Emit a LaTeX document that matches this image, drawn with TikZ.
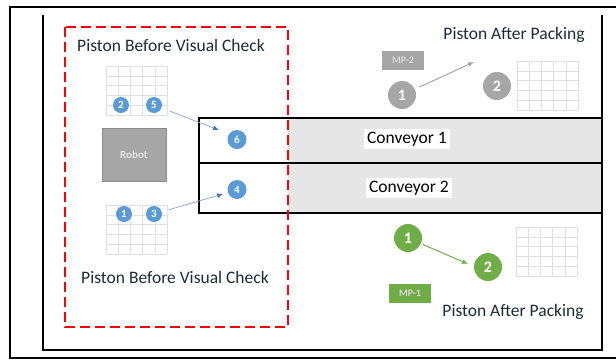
\documentclass[tikz,border=0pt]{standalone}
\usepackage{fontspec}
\setmainfont{Carlito}
\usepackage{tikz}
\usetikzlibrary{arrows.meta}

\definecolor{dotblue}{HTML}{5B9BD5}
\definecolor{arrowblue}{HTML}{8FAADC}
\definecolor{tipblue}{HTML}{4472C4}
\definecolor{dotgray}{HTML}{A6A6A6}
\definecolor{dotgreen}{HTML}{70AD47}
\definecolor{beltgray}{HTML}{E6E6E6}
\definecolor{textnavy}{HTML}{1E2A38}

\newcommand{\pistongrid}[2]{%
  \foreach \i in {0,...,5} {\draw[gridline] (#1+\i*12.2,#2) -- (#1+\i*12.2,#2+49);}
  \foreach \j in {0,...,5} {\draw[gridline] (#1,#2+\j*9.8) -- (#1+61,#2+\j*9.8);}
}

\tikzset{
  gridline/.style={draw=black!12,line width=0.6pt},
  smalldot/.style={circle,fill=dotblue,text=white,minimum size=16pt,inner sep=0pt,font=\fontsize{11}{11}\selectfont\bfseries},
  bigdot/.style={circle,text=white,minimum size=28pt,inner sep=0pt,font=\fontsize{16}{16}\selectfont\bfseries},
  tagbox/.style={minimum width=42pt,minimum height=19pt,inner sep=0pt,text=white!85!black,font=\fontsize{10}{10}\selectfont\bfseries},
  beltlabel/.style={fill=white,inner sep=3pt,font=\fontsize{17.5}{18}\selectfont},
}

\begin{document}
\begin{tikzpicture}[x=1pt,y=-1pt]
    \useasboundingbox (0,0) rectangle (616,360);

    % frames
    \draw[line width=2.6pt] (616,7) -- (10,7) -- (10,358) -- (616,358);
    \draw[line width=2.2pt] (43,15) -- (43,350) -- (602,350) -- (602,15);

    % conveyors
    \fill[beltgray] (288,118) rectangle (602,213);
    \draw[line width=1.8pt] (199,118) rectangle (602,213);
    \draw[line width=1.8pt] (199,163) -- (602,163);

    % grids
    \pistongrid{106}{66}
    \pistongrid{106}{205}
    \pistongrid{517}{61}
    \pistongrid{516}{227}

    % check area
    \draw[red,line width=2pt,dash pattern=on 10pt off 5pt] (65,27) rectangle (288,327);

    \begin{scope}[every node/.style={text=textnavy,font=\fontsize{17.5}{18}\selectfont}]
        \node (before1) at (171,45) {Piston Before Visual Check};
        \node (before2) at (175,277) {Piston Before Visual Check};
        \node (after1) at (514,35) {Piston After Packing};
        \node (after2) at (513,312) {Piston After Packing};
    \end{scope}

    \node[beltlabel] (belt1) at (407,139) {Conveyor 1};
    \node[beltlabel] (belt2) at (409,188) {Conveyor 2};

    \node[draw=black!45,fill=dotgray,line width=0.8pt,minimum width=64pt,minimum height=53pt,
          text=white!90!black,font=\fontsize{11}{11}\selectfont\bfseries] (robot) at (134,154.5) {Robot};

    \node[tagbox,fill=dotgray] (mp2) at (403,60.5) {MP-2};
    \node[tagbox,fill=dotgreen] (mp1) at (410,293.5) {MP-1};

    % blue pistons
    \node[smalldot] (b2) at (121,105) {2};
    \node[smalldot] (b5) at (154,105) {5};
    \node[smalldot] (b1) at (124,214) {1};
    \node[smalldot] (b3) at (154,214) {3};
    \node[smalldot,minimum size=19pt] (b6) at (237,139.5) {6};
    \node[smalldot,minimum size=19pt] (b4) at (237,189.5) {4};

    % packing
    \node[bigdot,fill=dotgray] (g1) at (402,95) {1};
    \node[bigdot,fill=dotgray] (g2) at (497,86) {2};
    \node[bigdot,fill=dotgreen] (n1) at (408,238) {1};
    \node[bigdot,fill=dotgreen] (n2) at (488,267) {2};

    \coordinate (t6) at (219,130);
    \coordinate (t4) at (223,194);
    \coordinate (tg) at (474,62);
    \coordinate (tn) at (468,264);

    \draw[arrowblue,line width=0.8pt,shorten <=9pt,-{Latex[length=6pt,width=5pt,color=tipblue]}] (b5) -- (t6);
    \draw[arrowblue,line width=0.8pt,shorten <=7pt,-{Latex[length=6pt,width=5pt,color=tipblue]}] (b3) -- (t4);
    \draw[dotgray,line width=1pt,shorten <=5pt,-{Latex[length=6pt,width=5pt]}] (g1) -- (tg);
    \draw[dotgreen,line width=1pt,shorten <=2pt,-{Latex[length=6pt,width=5pt]}] (n1) -- (tn);
\end{tikzpicture}
\end{document}
